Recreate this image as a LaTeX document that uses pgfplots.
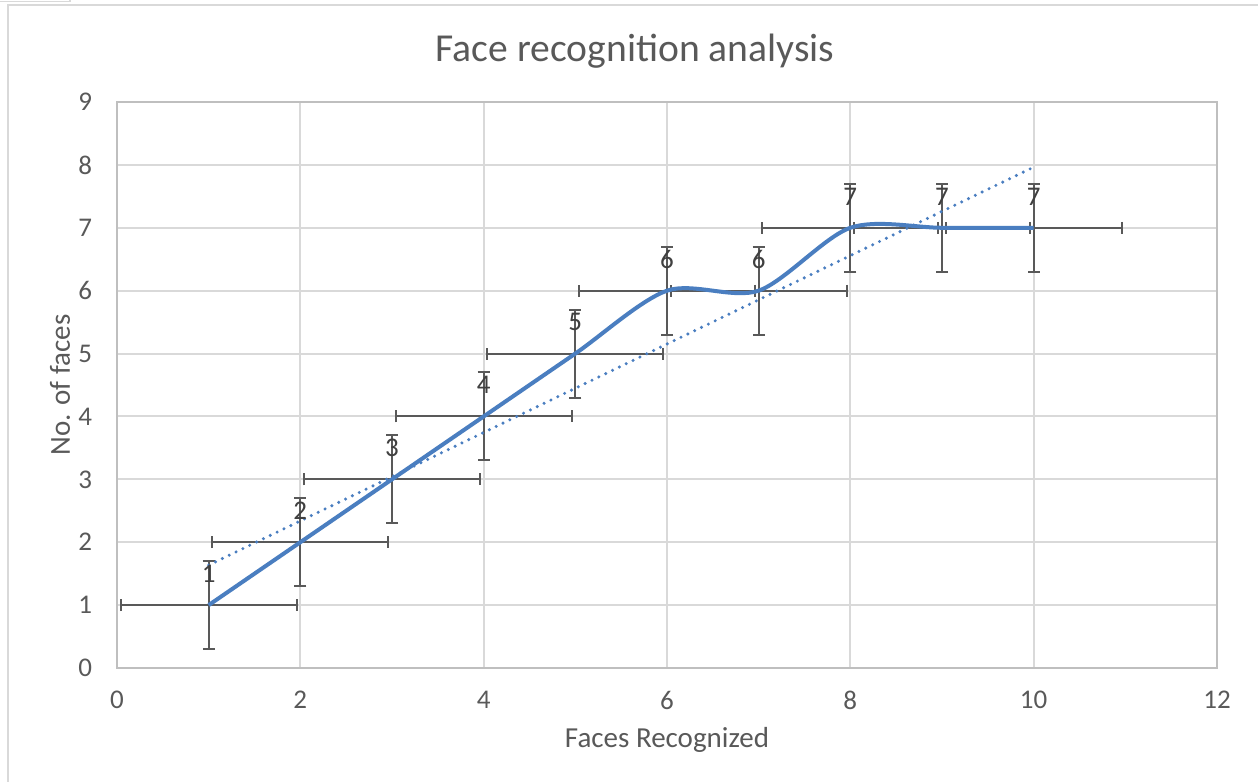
\documentclass[border=0pt]{standalone}
\usepackage{pgfplots}
\pgfplotsset{compat=1.18}
\usepackage{pgfplotstable}
\usepackage{fontspec}
\setmainfont{Carlito}
\definecolor{lineblue}{HTML}{4A7EC0}
\definecolor{txt}{HTML}{595959}
\definecolor{lbl}{HTML}{404040}
\definecolor{gridc}{HTML}{D9D9D9}
\definecolor{axisc}{HTML}{BFBFBF}
\definecolor{errc}{HTML}{595959}
\pgfplotstableread{
x y
1 1
2 2
3 3
4 4
5 5
6 6
7 6
8 7
9 7
10 7
}\facedata
\begin{document}
\begin{tikzpicture}
\useasboundingbox (-58.5bp,-57bp) rectangle (570.5bp,334bp);
\draw[gridc, line width=1.2bp] (-54.5bp,-57bp) -- (-54.5bp,331.5bp) -- (570.5bp,331.5bp);
\draw[gridc, line width=0.8bp] (-58.5bp,333.2bp) -- (-23.5bp,333.2bp) -- (-23.5bp,334bp);
\begin{axis}[
  at={(0,0)}, anchor=south west,
  scale only axis, width=550bp, height=283bp,
  xmin=0, xmax=12, ymin=0, ymax=9,
  xtick={0,2,...,12}, ytick={0,...,9},
  grid=major,
  major grid style={gridc, line width=1bp},
  axis line style={axisc, line width=1bp},
  major tick length=0pt,
  /pgf/number format/assume math mode=true,
  tick label style={font=\fontsize{13.5bp}{16bp}\selectfont, text=txt},
  xticklabel style={anchor=center, yshift=-16bp},
  yticklabel style={anchor=east, xshift=-9bp},
  title={Face recognition analysis},
  title style={at={(0.4709,1.069)}, anchor=center, font=\fontsize{19.8bp}{24bp}\selectfont, text=txt},
  xlabel={Faces Recognized},
  xlabel style={at={(0.5,-0.127)}, anchor=center, font=\fontsize{14.5bp}{17bp}\selectfont, text=txt},
  ylabel={No. of faces},
  ylabel style={at={(-0.0518,0.5)}, anchor=center, font=\fontsize{14.5bp}{17bp}\selectfont, text=txt},
]
\addplot[draw=none, mark=none, forget plot,
  error bars/.cd, x dir=both, x fixed=0.96, y dir=both, y fixed=0.7,
  error mark=|,
  error bar style={draw=errc, line width=1bp},
  error mark options={draw=errc, line width=1bp, mark size=3bp}]
  table[x=x, y=y] {\facedata};
\addplot[lineblue, line width=2bp, smooth, tension=0.5, mark=none,
  nodes near coords,
  every node near coord/.append style={anchor=center, yshift=15.7bp, font=\fontsize{13.5bp}{16bp}\selectfont, text=lbl}]
  table[x=x, y=y] {\facedata};
\addplot[lineblue, line width=1.7bp, dash pattern=on 0pt off 3.8bp, line cap=round, mark=none]
  coordinates {(1,1.636) (10,7.964)};
\end{axis}
\end{tikzpicture}
\end{document}
